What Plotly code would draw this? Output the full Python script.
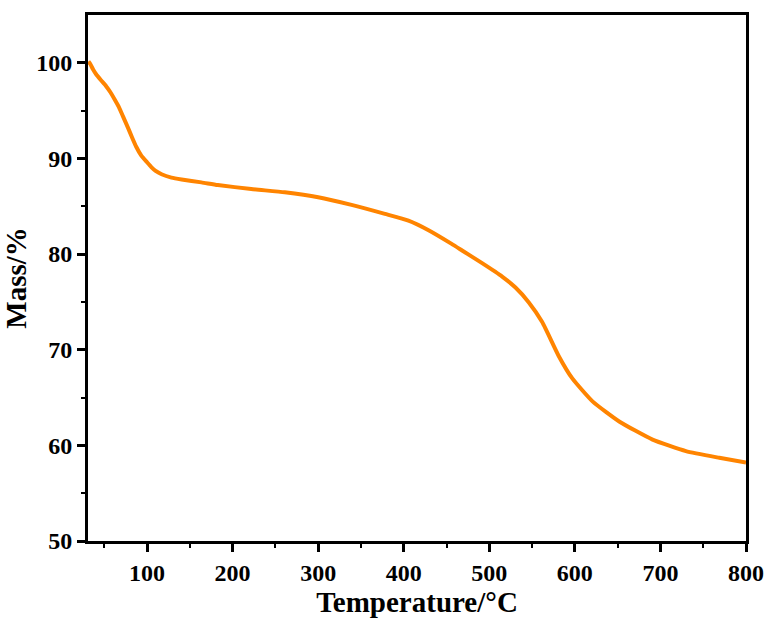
import plotly.graph_objects as go

temperature = [31.5, 33.5, 37, 40.5, 46, 52.2, 57, 62, 67, 71.9, 77.8, 82.5, 87.5, 93.3, 100, 105, 110, 117, 128.5,
               140.4, 163.6, 182.7, 221.8, 261, 300, 339, 378, 405.5, 429, 456, 468.2, 491.6, 515, 530.6, 546.2,
               561.8, 581.4, 597, 620.6, 651.8, 690.8, 729.8, 768.8, 800]
mass = [100.15, 99.9, 99.3, 98.8, 98.2, 97.56, 96.95, 96.2, 95.4, 94.4, 93.2, 92.2, 91.2, 90.3, 89.6, 89.1, 88.7, 88.35, 88.0,
        87.8, 87.5, 87.22, 86.8, 86.46, 85.94, 85.14, 84.2, 83.5, 82.5, 81.07, 80.38, 79.05, 77.65, 76.5, 74.95,
        72.9, 69.3, 67.0, 64.6, 62.5, 60.6, 59.4, 58.7, 58.2]

font_family = "Liberation Serif, Times New Roman, serif"

fig = go.Figure()
fig.add_trace(go.Scatter(x=temperature, y=mass, mode="lines",
                         line=dict(color="#FF8400", width=4, shape="spline", smoothing=0.5),
                         showlegend=False))

axis_common = dict(
    showline=True, linecolor="black", linewidth=3, mirror=True,
    ticks="outside", ticklen=8, tickwidth=3, tickcolor="black",
    showgrid=False, zeroline=False, automargin=False,
    tickfont=dict(family=font_family, size=24, color="black", weight="bold"),
)

fig.update_xaxes(range=[31, 800], tickvals=[100, 200, 300, 400, 500, 600, 700, 800],
                 minor=dict(ticks="outside", ticklen=4, tickwidth=2, tickcolor="black",
                            tickvals=[50, 150, 250, 350, 450, 550, 650, 750], showgrid=False),
                 title=dict(text="Temperature/°C", font=dict(family=font_family, size=29, color="black", weight="bold"),
                            standoff=6),
                 **axis_common)
fig.update_yaxes(range=[50, 105], tickvals=[50, 60, 70, 80, 90, 100],
                 minor=dict(ticks="outside", ticklen=4, tickwidth=2, tickcolor="black",
                            tickvals=[55, 65, 75, 85, 95], showgrid=False),
                 title=dict(text="Mass/%", font=dict(family=font_family, size=29, color="black", weight="bold"),
                            standoff=8),
                 **axis_common)

fig.update_layout(width=769, height=619, plot_bgcolor="white", paper_bgcolor="white",
                  margin=dict(l=88, r=23, t=15, b=78))

fig.write_html("out.html")
